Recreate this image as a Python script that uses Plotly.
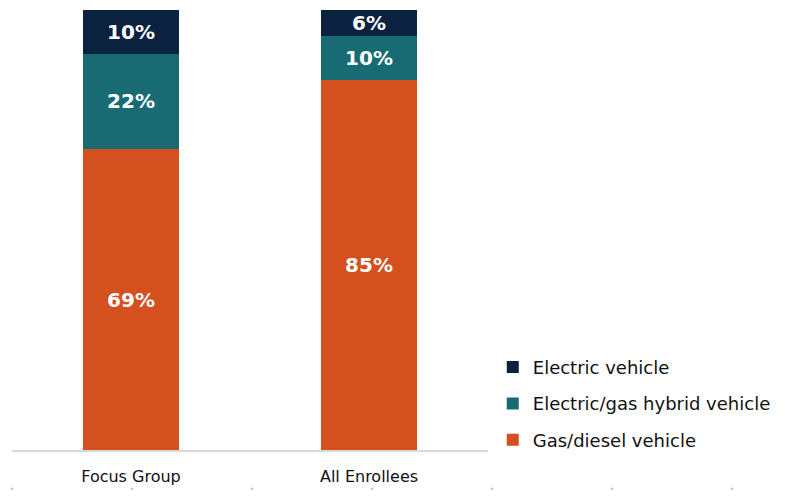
import plotly.graph_objects as go

categories = ["Focus Group", "All Enrollees"]
gas_diesel = [69, 85]
hybrid = [22, 10]
electric = [10, 6]
series_names = ["Gas/diesel vehicle", "Electric/gas hybrid vehicle", "Electric vehicle"]
colors = ["#D4501F", "#186B72", "#0A223F"]

FONT = "'DejaVu Sans', Verdana, sans-serif"

fig = go.Figure()
for i, (name, vals, col) in enumerate(zip(series_names, [gas_diesel, hybrid, electric], colors)):
    fig.add_trace(go.Bar(
        x=categories, y=vals, name=name,
        marker=dict(color=col, line=dict(width=0)),
        text=[f"{v}%" for v in vals], textposition="inside",
        insidetextanchor="middle",
        textfont=dict(color="white", size=20, family=FONT, weight="bold"),
        legendgroup=f"g{2 - i}",
        legendrank=3 - i,
    ))

fig.update_layout(
    barmode="stack",
    bargap=0.6,
    width=789, height=496,
    margin=dict(l=12, r=301, t=10, b=42),
    plot_bgcolor="white", paper_bgcolor="white",
    font=dict(family=FONT, color="#111111"),
    uniformtext=dict(minsize=20, mode="show"),
    showlegend=True,
    legend=dict(
        traceorder="grouped", x=1.01, xanchor="left", y=-0.02, yanchor="bottom",
        font=dict(size=18, color="#111111", family=FONT),
        tracegroupgap=10, itemwidth=30,
    ),
    xaxis=dict(
        showline=True, linecolor="#D9D9D9", linewidth=1.5,
        tickfont=dict(size=16, color="#111111", family=FONT),
        ticklabelstandoff=11, showgrid=False,
    ),
    yaxis=dict(range=[0, 101], visible=False, showgrid=False),
    shapes=[dict(type="line", xref="paper", yref="paper",
                 x0=-0.003, x1=1.63, y0=-0.088, y1=-0.088,
                 line=dict(color="#C8C8C8", width=2, dash="3px,117px"))],
)

fig.write_html("out.html")
